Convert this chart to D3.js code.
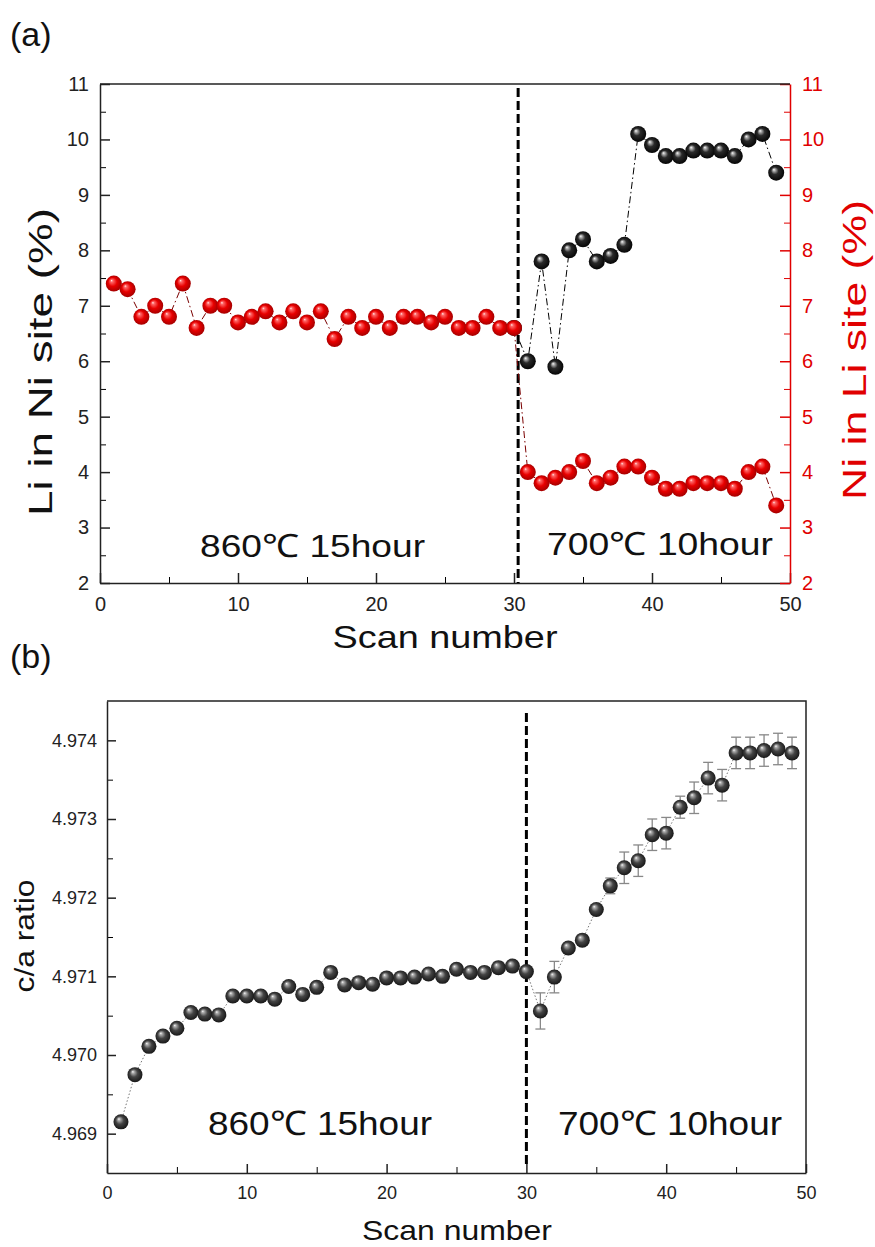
<!DOCTYPE html>
<html>
<head>
<meta charset="utf-8">
<script src="https://cdn.jsdelivr.net/npm/d3@7"></script>
<style>
  body { margin: 0; background: #fff; }
  svg { display: block; font-family: "Liberation Sans", Arial, sans-serif; }
</style>
</head>
<body>
<script>
// ---- data ----
const scans = [1,2,3,4,5,6,7,8,9,10,11,12,13,14,15,16,17,18,19,20,21,22,23,24,25,
  26,27,28,29,30,31,32,33,34,35,36,37,38,39,40,41,42,43,44,45,46,47,48,49];

// (a) Ni in Li site (%), red, right axis
const niInLi = [7.4,7.3,6.8,7.0,6.8,7.4,6.6,7.0,7.0,6.7,6.8,6.9,6.7,6.9,6.7,6.9,6.4,6.8,6.6,6.8,
  6.6,6.8,6.8,6.7,6.8,6.6,6.6,6.8,6.6,6.6,
  4.0,3.8,3.9,4.0,4.2,3.8,3.9,4.1,4.1,3.9,3.7,3.7,3.8,3.8,3.8,3.7,4.0,4.1,3.4];

// (a) Li in Ni site (%), black, left axis (scan 30 hidden under red marker)
const liScans = [30,31,32,33,34,35,36,37,38,39,40,41,42,43,44,45,46,47,48,49];
const liInNi = [6.6,6.0,7.8,5.9,8.0,8.2,7.8,7.9,8.1,10.1,9.9,9.7,9.7,9.8,9.8,9.8,9.7,10.0,10.1,9.4];

// (b) c/a ratio with error
const caRatio = [4.96915,4.96975,4.97011,4.97024,4.97034,4.97054,4.97052,4.97051,4.97075,4.97075,
  4.97075,4.97071,4.97087,4.97077,4.97086,4.97105,4.97089,4.97092,4.97090,4.97098,
  4.97098,4.97099,4.97103,4.97100,4.97109,4.97105,4.97105,4.97111,4.97113,4.97106,
  4.97056,4.97099,4.97136,4.97146,4.97185,4.97215,4.97238,4.97247,4.97280,4.97282,
  4.97315,4.97327,4.97352,4.97343,4.97384,4.97384,4.97387,4.97389,4.97384];
const caErr = [0.00004,0.00005,0.00005,0.00005,0.00004,0.00005,0.00005,0.00005,0.00005,0.00004,
  0.00004,0.00005,0.00005,0.00005,0.00005,0.00005,0.00005,0.00005,0.00005,0.00005,
  0.00005,0.00005,0.00005,0.00005,0.00006,0.00005,0.00005,0.00007,0.00006,0.00005,
  0.00023,0.00020,0.00006,0.00006,0.00005,0.00010,0.00020,0.00020,0.00020,0.00020,
  0.00014,0.00020,0.00020,0.00020,0.00020,0.00020,0.00020,0.00020,0.00020];

const xTicks = [0,10,20,30,40,50];
const xMinor = [5,15,25,35,45];
const yTicksA = [2,3,4,5,6,7,8,9,10,11];
const yMinorA = [2.5,3.5,4.5,5.5,6.5,7.5,8.5,9.5,10.5];
const yTicksB = [4.969,4.970,4.971,4.972,4.973,4.974];
const yMinorB = [4.9695,4.9705,4.9715,4.9725,4.9735];

const RED = "#e00000";

const svg = d3.select("body").append("svg")
  .attr("width", 875)
  .attr("height", 1247);

// sphere gradients
const defs = svg.append("defs");
function sphere(id, stops) {
  const g = defs.append("radialGradient").attr("id", id)
    .attr("cx", "50%").attr("cy", "50%").attr("r", "55%")
    .attr("fx", "35%").attr("fy", "30%");
  stops.forEach(s => g.append("stop").attr("offset", s[0]).attr("stop-color", s[1]));
}
sphere("ballRed", [["0%", "#fff0f0"], ["14%", "#ff6a6a"], ["50%", "#e80000"], ["100%", "#9a0000"]]);
sphere("ballBlack", [["0%", "#ffffff"], ["12%", "#b8b8b8"], ["42%", "#2a2a2a"], ["100%", "#000"]]);
sphere("ballGray", [["0%", "#ffffff"], ["14%", "#b0b0b0"], ["48%", "#444"], ["100%", "#111"]]);

// ================= panel (a) =================
const xA = d3.scaleLinear().domain([0, 50]).range([100, 790]);
const yA = d3.scaleLinear().domain([2, 11]).range([583, 84]);

// minor ticks first
svg.append("g").attr("transform", "translate(0,583)")
  .call(d3.axisBottom(xA).tickValues(xMinor).tickSize(-6).tickFormat("").tickSizeOuter(0))
  .call(g => g.select(".domain").remove());
svg.append("g").attr("transform", "translate(100,0)")
  .call(d3.axisLeft(yA).tickValues(yMinorA).tickSize(-6).tickFormat("").tickSizeOuter(0))
  .call(g => g.select(".domain").remove());
svg.append("g").attr("transform", "translate(790,0)")
  .call(d3.axisRight(yA).tickValues(yMinorA).tickSize(-6).tickFormat("").tickSizeOuter(0))
  .call(g => g.select(".domain").remove())
  .call(g => g.selectAll("line").attr("stroke", RED));

svg.append("g").attr("transform", "translate(0,583)")
  .call(d3.axisBottom(xA).tickValues(xTicks).tickSize(-10).tickPadding(14).tickSizeOuter(0))
  .call(g => g.selectAll("text").attr("font-size", 20).attr("fill", "#222"))
  .call(g => g.selectAll("path,line").attr("stroke-width", 1.5).attr("stroke", "#222"));

svg.append("g").attr("transform", "translate(100,0)")
  .call(d3.axisLeft(yA).tickValues(yTicksA).tickSize(-10).tickPadding(11).tickSizeOuter(0))
  .call(g => g.selectAll("text").attr("font-size", 20).attr("fill", "#222"))
  .call(g => g.selectAll("path,line").attr("stroke-width", 1.5).attr("stroke", "#222"));

svg.append("g").attr("transform", "translate(790,0)")
  .call(d3.axisRight(yA).tickValues(yTicksA).tickSize(-10).tickPadding(12).tickSizeOuter(0))
  .call(g => g.selectAll("text").attr("font-size", 20).attr("fill", RED))
  .call(g => g.selectAll("path,line").attr("stroke-width", 1.5).attr("stroke", RED));

svg.append("line")
  .attr("x1", 100).attr("x2", 790).attr("y1", 84).attr("y2", 84)
  .attr("stroke", "#222").attr("stroke-width", 1.5);

// divider
svg.append("line")
  .attr("x1", xA(30.3)).attr("x2", xA(30.3))
  .attr("y1", 88).attr("y2", 583)
  .attr("stroke", "#000").attr("stroke-width", 3)
  .attr("stroke-dasharray", "9,4");

// black series
const liData = liScans.map((s, i) => ({x: s, y: liInNi[i]}));
svg.append("path").datum(liData)
  .attr("fill", "none").attr("stroke", "#000").attr("stroke-width", 1)
  .attr("stroke-dasharray", "7,3,1.5,3")
  .attr("d", d3.line().x(d => xA(d.x)).y(d => yA(d.y)));
svg.append("g").selectAll("circle").data(liData).enter().append("circle")
  .attr("cx", d => xA(d.x)).attr("cy", d => yA(d.y)).attr("r", 8)
  .attr("fill", "url(#ballBlack)");

// red series
const niData = scans.map((s, i) => ({x: s, y: niInLi[i]}));
svg.append("path").datum(niData)
  .attr("fill", "none").attr("stroke", "#7a0000").attr("stroke-width", 1)
  .attr("stroke-dasharray", "7,3,1.5,3")
  .attr("d", d3.line().x(d => xA(d.x)).y(d => yA(d.y)));
svg.append("g").selectAll("circle").data(niData).enter().append("circle")
  .attr("cx", d => xA(d.x)).attr("cy", d => yA(d.y)).attr("r", 8)
  .attr("fill", "url(#ballRed)");

// texts (a)
svg.append("text").attr("x", 10).attr("y", 46).attr("font-size", 34).attr("fill", "#111").text("(a)");
svg.append("text").attr("x", 200).attr("y", 557).attr("font-size", 32)
  .attr("textLength", 225).attr("lengthAdjust", "spacingAndGlyphs").attr("fill", "#111").text("860℃ 15hour");
svg.append("text").attr("x", 547).attr("y", 555).attr("font-size", 32)
  .attr("textLength", 226).attr("lengthAdjust", "spacingAndGlyphs").attr("fill", "#111").text("700℃ 10hour");
svg.append("text").attr("x", 445).attr("y", 648).attr("font-size", 32).attr("text-anchor", "middle")
  .attr("textLength", 225).attr("lengthAdjust", "spacingAndGlyphs").attr("fill", "#111").text("Scan number");
svg.append("text").attr("transform", "translate(52,362) rotate(-90)")
  .attr("font-size", 34).attr("text-anchor", "middle")
  .attr("textLength", 308).attr("lengthAdjust", "spacingAndGlyphs").attr("fill", "#111").text("Li in Ni site (%)");
svg.append("text").attr("transform", "translate(866,350) rotate(-90)")
  .attr("font-size", 34).attr("text-anchor", "middle")
  .attr("textLength", 300).attr("lengthAdjust", "spacingAndGlyphs").attr("fill", RED).text("Ni in Li site (%)");

// ================= panel (b) =================
const xB = d3.scaleLinear().domain([0, 50]).range([107, 806]);
const yB = d3.scaleLinear().domain([4.9685, 4.9745]).range([1173, 701]);

svg.append("g").attr("transform", "translate(0,1173)")
  .call(d3.axisBottom(xB).tickValues(xMinor).tickSize(-6).tickFormat("").tickSizeOuter(0))
  .call(g => g.select(".domain").remove());
svg.append("g").attr("transform", "translate(107,0)")
  .call(d3.axisLeft(yB).tickValues(yMinorB).tickSize(-6).tickFormat("").tickSizeOuter(0))
  .call(g => g.select(".domain").remove());

svg.append("g").attr("transform", "translate(0,1173)")
  .call(d3.axisBottom(xB).tickValues(xTicks).tickSize(-9).tickPadding(13).tickSizeOuter(0))
  .call(g => g.selectAll("text").attr("font-size", 18).attr("fill", "#222"))
  .call(g => g.selectAll("path,line").attr("stroke-width", 1.5).attr("stroke", "#222"));

svg.append("g").attr("transform", "translate(107,0)")
  .call(d3.axisLeft(yB).tickValues(yTicksB).tickSize(-9).tickPadding(10).tickFormat(d3.format(".3f")).tickSizeOuter(0))
  .call(g => g.selectAll("text").attr("font-size", 18).attr("fill", "#222"))
  .call(g => g.selectAll("path,line").attr("stroke-width", 1.5).attr("stroke", "#222"));

svg.append("path")
  .attr("d", "M107,701H806V1173")
  .attr("fill", "none").attr("stroke", "#222").attr("stroke-width", 1.5);

svg.append("line")
  .attr("x1", xB(30)).attr("x2", xB(30))
  .attr("y1", 713).attr("y2", 1164)
  .attr("stroke", "#000").attr("stroke-width", 3)
  .attr("stroke-dasharray", "9,4");

const caData = scans.map((s, i) => ({x: s, y: caRatio[i], e: caErr[i]}));

svg.append("path").datum(caData)
  .attr("fill", "none").attr("stroke", "#777").attr("stroke-width", 1)
  .attr("stroke-dasharray", "1.5,2")
  .attr("d", d3.line().x(d => xB(d.x)).y(d => yB(d.y)));

const eb = svg.append("g").attr("stroke", "#888").attr("stroke-width", 1.3);
eb.selectAll(".v").data(caData).enter().append("line").attr("class", "v")
  .attr("x1", d => xB(d.x)).attr("x2", d => xB(d.x))
  .attr("y1", d => yB(d.y - d.e)).attr("y2", d => yB(d.y + d.e));
eb.selectAll(".t").data(caData).enter().append("line").attr("class", "t")
  .attr("x1", d => xB(d.x) - 5).attr("x2", d => xB(d.x) + 5)
  .attr("y1", d => yB(d.y + d.e)).attr("y2", d => yB(d.y + d.e));
eb.selectAll(".b").data(caData).enter().append("line").attr("class", "b")
  .attr("x1", d => xB(d.x) - 5).attr("x2", d => xB(d.x) + 5)
  .attr("y1", d => yB(d.y - d.e)).attr("y2", d => yB(d.y - d.e));

svg.append("g").selectAll("circle").data(caData).enter().append("circle")
  .attr("cx", d => xB(d.x)).attr("cy", d => yB(d.y)).attr("r", 7.5)
  .attr("fill", "url(#ballGray)");

// texts (b)
svg.append("text").attr("x", 10).attr("y", 668).attr("font-size", 34).attr("fill", "#111").text("(b)");
svg.append("text").attr("x", 208).attr("y", 1135).attr("font-size", 34)
  .attr("textLength", 224).attr("lengthAdjust", "spacingAndGlyphs").attr("fill", "#111").text("860℃ 15hour");
svg.append("text").attr("x", 558).attr("y", 1135).attr("font-size", 34)
  .attr("textLength", 224).attr("lengthAdjust", "spacingAndGlyphs").attr("fill", "#111").text("700℃ 10hour");
svg.append("text").attr("x", 457).attr("y", 1240).attr("font-size", 28).attr("text-anchor", "middle")
  .attr("textLength", 190).attr("lengthAdjust", "spacingAndGlyphs").attr("fill", "#111").text("Scan number");
svg.append("text").attr("transform", "translate(34,936) rotate(-90)")
  .attr("font-size", 27).attr("text-anchor", "middle")
  .attr("textLength", 113).attr("lengthAdjust", "spacingAndGlyphs").attr("fill", "#111").text("c/a ratio");
</script>
</body>
</html>
